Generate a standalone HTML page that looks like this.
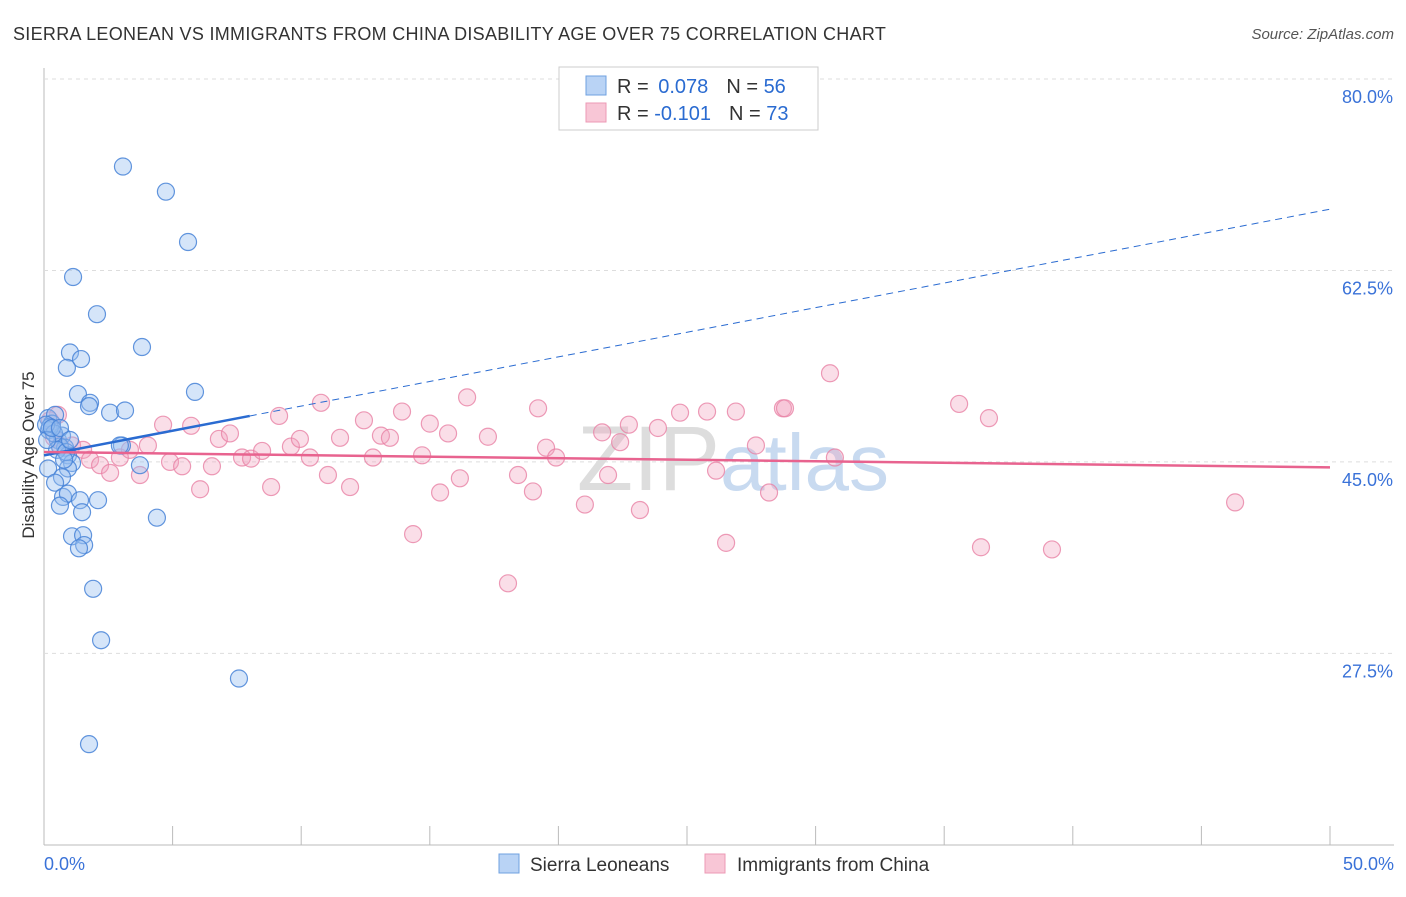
<!DOCTYPE html>
<html><head><meta charset="utf-8"><style>
body{margin:0;background:#fff;font-family:"Liberation Sans",sans-serif;}
svg text{font-family:"Liberation Sans",sans-serif;}
</style></head><body>
<svg id="c" width="1406" height="892">
<text x="13" y="40" font-size="18" fill="#333" letter-spacing="0.3">SIERRA LEONEAN VS IMMIGRANTS FROM CHINA DISABILITY AGE OVER 75 CORRELATION CHART</text>
<text x="1394" y="39" font-size="15" fill="#555" text-anchor="end" font-style="italic">Source: ZipAtlas.com</text>
<text transform="translate(34,455) rotate(-90)" font-size="17" fill="#333" text-anchor="middle">Disability Age Over 75</text>
<g id="grid"></g>
<text x="720" y="490" font-size="92" fill="#ddd" text-anchor="end" font-family="Liberation Serif">ZIP</text>
<text x="720" y="490" font-size="80" fill="#c8daf0">atlas</text>
<g id="pts"></g>
<g id="lines"></g>
<g>
<rect x="559" y="67" width="259" height="63" fill="#fff" stroke="#ccc"/>
<rect x="586" y="76" width="20" height="19" fill="#b9d3f5" stroke="#6fa0e0"/>
<rect x="586" y="103" width="20" height="19" fill="#f8c6d6" stroke="#ec9ab5"/>
<text x="617" y="93" font-size="20" fill="#333">R = <tspan fill="#2a6bd1" dx="4">0.078</tspan><tspan dx="18">N = </tspan><tspan fill="#2a6bd1">56</tspan></text>
<text x="617" y="120" font-size="20" fill="#333">R = <tspan fill="#2a6bd1">-0.101</tspan><tspan dx="18">N = </tspan><tspan fill="#2a6bd1">73</tspan></text>
</g>
<g>
<rect x="499" y="854" width="20" height="19" fill="#b9d3f5" stroke="#6fa0e0"/>
<text x="530" y="871" font-size="19" fill="#333">Sierra Leoneans</text>
<rect x="705" y="854" width="20" height="19" fill="#f8c6d6" stroke="#ec9ab5"/>
<text x="737" y="871" font-size="19" fill="#333">Immigrants from China</text>
</g>
</svg>
<script>
const yTicks=[80,62.5,45,27.5];
const yTickLabels=["80.0%","62.5%","45.0%","27.5%"];
const xTickLabels=["0.0%","50.0%"];
const blueX=[3.07,4.74,5.6,1.13,2.06,3.81,1.01,1.44,0.89,5.87,1.32,1.79,1.75,2.57,3.15,0.16,0.31,0.43,0.19,0.54,0.7,0.82,0.62,0.93,1.09,3.03,2.95,3.73,0.16,0.93,0.7,0.43,0.74,0.93,2.1,1.4,0.62,1.48,4.39,1.09,1.52,1.56,1.36,1.91,2.22,7.58,1.75,0.23,0.39,0.08,0.51,0.86,0.78,0.12,0.31,0.62,1.01];
const blueY=[72.0,69.7,65.1,61.9,58.5,55.5,55.0,54.4,53.6,51.4,51.2,50.4,50.1,49.5,49.7,49.0,48.5,49.3,47.9,47.0,47.4,46.3,46.4,45.6,44.9,46.5,46.5,44.7,44.4,44.4,43.6,43.1,41.8,42.1,41.5,41.5,41.0,40.4,39.9,38.2,38.3,37.4,37.1,33.4,28.7,25.2,19.2,48.2,47.6,48.4,46.1,45.9,45.2,47.0,48.1,48.1,47.0];
const pinkX=[0.54,0.23,0.39,0.62,1.09,1.52,1.79,2.18,2.57,2.95,3.34,3.73,4.04,4.63,4.9,5.37,5.72,6.07,6.53,6.8,7.23,7.7,8.05,8.48,8.83,9.14,9.6,9.95,10.34,10.77,11.04,11.51,11.9,12.44,12.79,13.1,13.45,13.92,14.35,14.7,15.0,15.4,15.71,16.17,16.45,17.26,18.04,18.43,19.01,19.21,19.52,19.91,21.03,21.7,21.93,22.4,22.74,23.17,23.87,24.73,25.78,26.13,26.52,26.9,27.68,28.19,28.73,28.81,30.56,30.75,35.58,36.43,36.74,39.19,46.31];
const pinkY=[49.3,48.8,47.2,46.5,46.5,46.1,45.2,44.7,44.0,45.4,46.1,43.8,46.5,48.4,45.0,44.6,48.3,42.5,44.6,47.1,47.6,45.4,45.3,46.0,42.7,49.2,46.4,47.1,45.4,50.4,43.8,47.2,42.7,48.8,45.4,47.4,47.2,49.6,38.4,45.6,48.5,42.2,47.6,43.5,50.9,47.3,33.9,43.8,42.3,49.9,46.3,45.4,41.1,47.7,43.8,46.8,48.4,40.6,48.1,49.5,49.6,44.2,37.6,49.6,46.5,42.2,49.9,49.9,53.1,45.4,50.3,37.2,49.0,37.0,41.3];
const blueTrend=[45.6,0.45], pinkTrend=[45.9,-0.028];
const X=v=>44+v*25.72, Y=v=>79+(80-v)*10.94;
const ns="http://www.w3.org/2000/svg";
function mk(t,a,p){const e=document.createElementNS(ns,t);for(const k in a)e.setAttribute(k,a[k]);p.appendChild(e);return e;}
const g=document.getElementById('grid');
const ax=mk('line',{x1:44,y1:68,x2:44,y2:845,stroke:'#bbb'},g);


const bx=mk('line',{x1:44,y1:845,x2:1394,y2:845,stroke:'#bbb'},g);


yTicks.forEach((t,i)=>{
 const l=mk('line',{x1:44,x2:1394,y1:Y(t),y2:Y(t),stroke:'#ddd','stroke-dasharray':'4,4'},g);
 
 
 const tx=mk('text',{x:1393,y:Y(t)+24,'font-size':18,fill:'#3a72d8','text-anchor':'end'},g);tx.textContent=yTickLabels[i];
 
 
});
for(let i=0;i<=10;i++){const tk=mk('line',{x1:X(i*5),x2:X(i*5),y1:826,y2:845,stroke:'#bbb'},g);
 
 }
[[0,'start',44],[1,'end',1394]].forEach(([i,a,x])=>{const t=mk('text',{x:x,y:870,'font-size':18,fill:'#3a72d8','text-anchor':a},g);t.textContent=xTickLabels[i];
 
 });
const p=document.getElementById('pts');
pinkX.forEach((x,i)=>{const c=mk('circle',{cx:X(x),cy:Y(pinkY[i]),r:8.5,fill:'rgba(242,160,188,0.35)',stroke:'rgba(232,130,165,0.8)','stroke-width':1.2},p);
 
 });
blueX.forEach((x,i)=>{const c=mk('circle',{cx:X(x),cy:Y(blueY[i]),r:8.5,fill:'rgba(150,190,240,0.4)',stroke:'rgba(70,130,215,0.85)','stroke-width':1.2},p);
 
 });
const L=document.getElementById('lines');
const f=(tr,x)=>tr[0]+tr[1]*x;
const b1=mk('line',{x1:X(0),y1:Y(f(blueTrend,0)),x2:X(8),y2:Y(f(blueTrend,8)),stroke:'#2a6bd1','stroke-width':2.5},L);


const b2=mk('line',{x1:X(8),y1:Y(f(blueTrend,8)),x2:X(50),y2:Y(f(blueTrend,50)),stroke:'#2a6bd1','stroke-width':1,'stroke-dasharray':'7,5'},L);


const p1=mk('line',{x1:X(0),y1:Y(f(pinkTrend,0)),x2:X(50),y2:Y(f(pinkTrend,50)),stroke:'#e8638f','stroke-width':2.5},L);


</script>
</body></html>
